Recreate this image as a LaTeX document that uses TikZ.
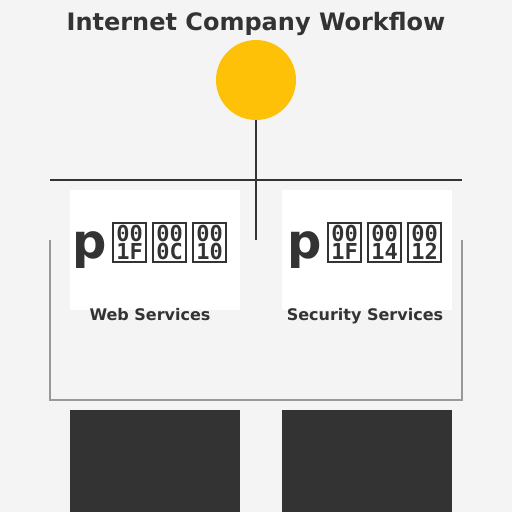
\documentclass[tikz,border=0pt]{standalone}
\usepackage{fontspec}
\setmainfont{DejaVu Sans}
\setmonofont{DejaVu Sans Mono}
\usetikzlibrary{positioning}
\definecolor{paper}{HTML}{F4F4F4}
\definecolor{ink}{HTML}{333333}
\definecolor{amber}{HTML}{FFC107}
\definecolor{wire}{HTML}{999999}
\tikzset{hub/.style={circle, fill=amber, minimum size=80pt, inner sep=0pt}}
\tikzset{card/.style={fill=white, minimum width=170pt, minimum height=120pt, inner sep=0pt}}
\tikzset{slab/.style={fill=ink, minimum width=170pt, minimum height=102pt, inner sep=0pt}}
\tikzset{caption/.style={text=ink, inner sep=0pt, font=\fontsize{16}{19}\selectfont\bfseries}}
\tikzset{glyphs/.style={text=ink, inner sep=0pt, font=\fontsize{48}{50}\selectfont\bfseries}}
\tikzset{link/.style={draw=ink, line width=2pt}}
\tikzset{frame/.style={draw=wire, line width=2pt}}

% a glyph the font lacks, as the reference shows it
\newcommand{\tofu}[2]{\hspace{5pt}\raisebox{-3pt}{\setlength{\fboxsep}{0pt}\setlength{\fboxrule}{2pt}\fbox{\parbox[b][37pt][c]{31pt}{\centering\fontsize{22}{18}\selectfont\bfseries\ttfamily #1\\#2}}}}

\begin{document}
\begin{tikzpicture}[x=1pt, y=-1pt]
	\fill[paper] (0,0) rectangle (512,512);
	\useasboundingbox (0,0) rectangle (512,512);

	% TOP
	\node[text=ink, inner sep=0pt, anchor=base, font=\fontsize{24}{28}\selectfont\bfseries] (title) at (256,30) {Internet Company Workflow};
	\node[hub] (hub) at (256,80) {};

	\coordinate (hubfoot) at (256,240);
	\coordinate (railwest) at (50,180);		\coordinate (raileast) at (462,180);

	% SERVICES
	\node[card, anchor=north west] (web) at (70,190) {};
	\node[card, anchor=north west] (sec) at (282,190) {};

	\node[glyphs, anchor=base] (webicon) at (150,258) {p\tofu{00}{1F}\tofu{00}{0C}\tofu{00}{10}};
	\node[glyphs, anchor=base] (secicon) at (365,258) {p\tofu{00}{1F}\tofu{00}{14}\tofu{00}{12}};

	\node[caption, anchor=base] (weblabel) at (150,320) {Web Services};
	\node[caption, anchor=base] (seclabel) at (365,320) {Security Services};

	% frame below
	\coordinate (framewest) at (50,240);	\coordinate (framesw) at (50,400);
	\coordinate (frameeast) at (462,240);	\coordinate (framese) at (462,400);

	% BOTTOM
	\node[slab, anchor=north west] (webslab) at (70,410) {};
	\node[slab, anchor=north west] (secslab) at (282,410) {};

	% Lines
	\draw[link] (railwest) -- (raileast);
	\draw[link] (hub) -- (hubfoot);
	\draw[frame] (framewest) -- (framesw) -- (framese) -- (frameeast);
\end{tikzpicture}
\end{document}
